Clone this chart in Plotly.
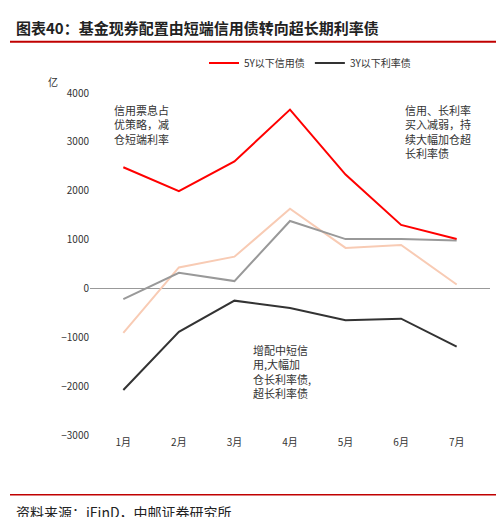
import plotly.graph_objects as go

months = ["1月", "2月", "3月", "4月", "5月", "6月", "7月"]
credit_5y = [2480, 1990, 2600, 3660, 2330, 1300, 1010]
rate_3y = [-2080, -890, -250, -400, -650, -620, -1190]
credit_5y_prev = [-910, 430, 650, 1630, 830, 890, 80]
rate_3y_prev = [-220, 320, 150, 1380, 1010, 1010, 980]
yticks = [-3000, -2000, -1000, 0, 1000, 2000, 3000, 4000]

F = "Noto Sans CJK SC"
fig = go.Figure()
fig.add_trace(go.Scatter(x=months, y=credit_5y_prev, mode="lines", line=dict(color="#F8CBB4", width=2), showlegend=False))
fig.add_trace(go.Scatter(x=months, y=rate_3y_prev, mode="lines", line=dict(color="#999999", width=2), showlegend=False))
fig.add_trace(go.Scatter(x=months, y=credit_5y, mode="lines", name="5Y以下信用债", line=dict(color="#FF0000", width=2)))
fig.add_trace(go.Scatter(x=months, y=rate_3y, mode="lines", name="3Y以下利率债", line=dict(color="#333333", width=2)))

fig.update_layout(
    width=504, height=517, margin=dict(l=82, r=22, t=85, b=90),
    plot_bgcolor="white", paper_bgcolor="white",
    font=dict(family=F, size=10, color="#333"),
    legend=dict(orientation="h", x=0.55, xanchor="center", y=1.13, font=dict(size=10)),
    xaxis=dict(range=[-0.6, 6.6], showgrid=False, showline=False, ticks="", tickfont=dict(size=10)),
    yaxis=dict(range=[-3000, 4000], tickvals=yticks, showgrid=False, zeroline=True,
               zerolinecolor="#999", zerolinewidth=1, tickfont=dict(size=10)),
    annotations=[
        dict(text="<b>图表40：基金现券配置由短端信用债转向超长期利率债</b>", xref="paper", yref="paper",
             x=-0.19, y=1.155, xanchor="left", yanchor="bottom", showarrow=False, font=dict(size=15, color="#222")),
        dict(text="亿", xref="paper", yref="paper", x=-0.11, y=1.06, showarrow=False, font=dict(size=10)),
        dict(text="信用票息占<br>优策略，减<br>仓短端利率", x=-0.2, y=3850, xref="x", yref="y", xanchor="left",
             yanchor="top", showarrow=False, align="left", font=dict(size=11)),
        dict(text="信用、长利率<br>买入减弱，持<br>续大幅加仓超<br>长利率债", x=6.3, y=3850, xref="x", yref="y",
             xanchor="right", yanchor="top", showarrow=False, align="left", font=dict(size=11)),
        dict(text="增配中短信<br>用,大幅加<br>仓长利率债,<br>超长利率债", x=2.3, y=-1050, xref="x", yref="y",
             xanchor="left", yanchor="top", showarrow=False, align="left", font=dict(size=11)),
        dict(text="资料来源：iFinD，中邮证券研究所", xref="paper", yref="paper", x=-0.19, y=-0.19,
             xanchor="left", yanchor="top", showarrow=False, font=dict(size=14, color="#222")),
    ],
    shapes=[
        dict(type="line", xref="paper", yref="paper", x0=-0.2, x1=1.05, y0=1.15, y1=1.15, line=dict(color="#C00000", width=2)),
        dict(type="line", xref="paper", yref="paper", x0=-0.2, x1=1.05, y0=-0.175, y1=-0.175, line=dict(color="#C00000", width=1.5)),
    ],
)
fig.write_html("out.html")
